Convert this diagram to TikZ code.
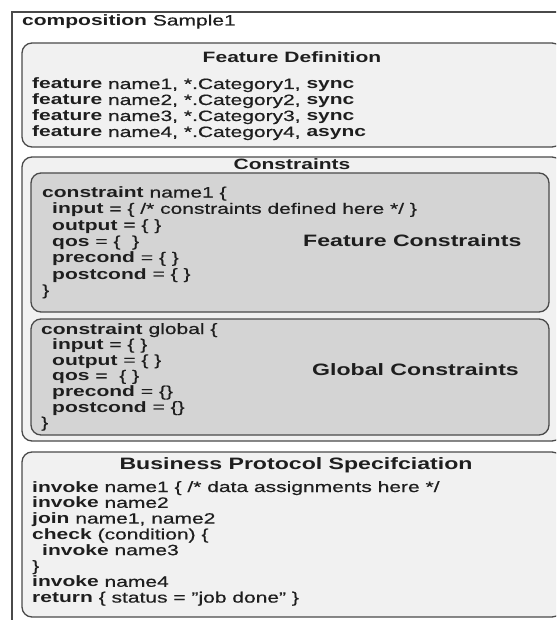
\documentclass[tikz,border=0pt]{standalone}
\usepackage{fontspec}
\setmainfont{Liberation Sans}[FakeStretch=1.4, UprightFeatures={FakeBold=0.5}]
\definecolor{panelfill}{HTML}{F1F1F1}
\definecolor{innerfill}{HTML}{D4D4D4}
\definecolor{edgecol}{HTML}{4A4A4A}
\definecolor{inkcol}{HTML}{1E1E1E}
\newcommand\bodyfont{\fontsize{15}{16}\selectfont}
\newcommand\labelfont{\fontsize{16.5}{18}\selectfont\bfseries}
\newcommand\kw[1]{\textbf{#1}}
\tikzset{
  txt/.style={anchor=base west, inner sep=0pt, font=\bodyfont, text=inkcol},
  ttl/.style={anchor=base, inner sep=0pt, font=\bodyfont\bfseries, text=inkcol},
  lbl/.style={anchor=base west, inner sep=0pt, font=\labelfont, text=inkcol},
  outerbox/.style={draw=edgecol, line width=1.4pt},
  panel/.style={draw=edgecol, line width=1.3pt, fill=panelfill, rounded corners=10pt},
  innerbox/.style={draw=edgecol, line width=1.3pt, fill=innerfill, rounded corners=10pt},
}
\begin{document}
\begin{tikzpicture}[x=1pt,y=-1pt]
\useasboundingbox (0,0) rectangle (556,620);
\fill[white] (0,0) rectangle (556,620);
\clip (0,0) rectangle (556,620);

% composition frame
\draw[outerbox] (12,12) rectangle (578,640);
\node[txt] (comp) at (22,25.5) {\kw{composition} Sample1};

% feature definition panel
\draw[panel] (22,43) rectangle (562,147);
\node[ttl] (fdtitle) at (292,63) {Feature Definition};
\node[txt] (fd1) at (32,89)  {\kw{feature} name1, *.Category1, \kw{sync}};
\node[txt] (fd2) at (32,105) {\kw{feature} name2, *.Category2, \kw{sync}};
\node[txt] (fd3) at (32,121) {\kw{feature} name3, *.Category3, \kw{sync}};
\node[txt] (fd4) at (32,137) {\kw{feature} name4, *.Category4, \kw{async}};

% constraints panel
\draw[panel] (22,157) rectangle (562,441);
\node[ttl] (cstitle) at (292,169.5) {Constraints};

% feature constraints
\draw[innerbox] (31,173) rectangle (549,312);
\node[txt] (fc1) at (42,197.5) {\kw{constraint} name1 \{};
\node[txt] (fc2) at (52,213.8) {\kw{input} = \{ /* constraints defined here */ \}};
\node[txt] (fc3) at (52,230.1) {\kw{output} = \{ \}};
\node[txt] (fc4) at (52,246.4) {\kw{qos} = \{\ \ \}};
\node[txt] (fc5) at (52,262.7) {\kw{precond} = \{ \}};
\node[txt] (fc6) at (52,279)   {\kw{postcond} = \{ \}};
\node[txt] (fc7) at (42,295.3) {\}};
\node[lbl] (fclabel) at (303,246) {Feature Constraints};

% global constraints
\draw[innerbox] (31,319) rectangle (549,435);
\node[txt] (gc1) at (41,334)   {\kw{constraint} global \{};
\node[txt] (gc2) at (52,349.6) {\kw{input} = \{ \}};
\node[txt] (gc3) at (52,365.2) {\kw{output} = \{ \}};
\node[txt] (gc4) at (52,380.8) {\kw{qos} =\ \ \{ \}};
\node[txt] (gc5) at (52,396.4) {\kw{precond} = \{\}};
\node[txt] (gc6) at (52,412)   {\kw{postcond} = \{\}};
\node[txt] (gc7) at (41,427.6) {\}};
\node[lbl] (gclabel) at (312,375) {Global Constraints};

% business protocol panel
\draw[panel] (22,452) rectangle (562,617);
\node[anchor=base, inner sep=0pt, font=\labelfont, text=inkcol] (bptitle) at (296,469) {Business Protocol Specifciation};
\node[txt] (bp1) at (32,492)   {\kw{invoke} name1 \{ /* data assignments here */};
\node[txt] (bp2) at (32,507.8) {\kw{invoke} name2};
\node[txt] (bp3) at (32,523.6) {\kw{join} name1, name2};
\node[txt] (bp4) at (32,539.4) {\kw{check} (condition) \{};
\node[txt] (bp5) at (42,555.2) {\kw{invoke} name3};
\node[txt] (bp6) at (32,571)   {\}};
\node[txt] (bp7) at (32,586.8) {\kw{invoke} name4};
\node[txt] (bp8) at (32,602.6) {\kw{return} \{ status = "job done" \}};
\end{tikzpicture}
\end{document}
